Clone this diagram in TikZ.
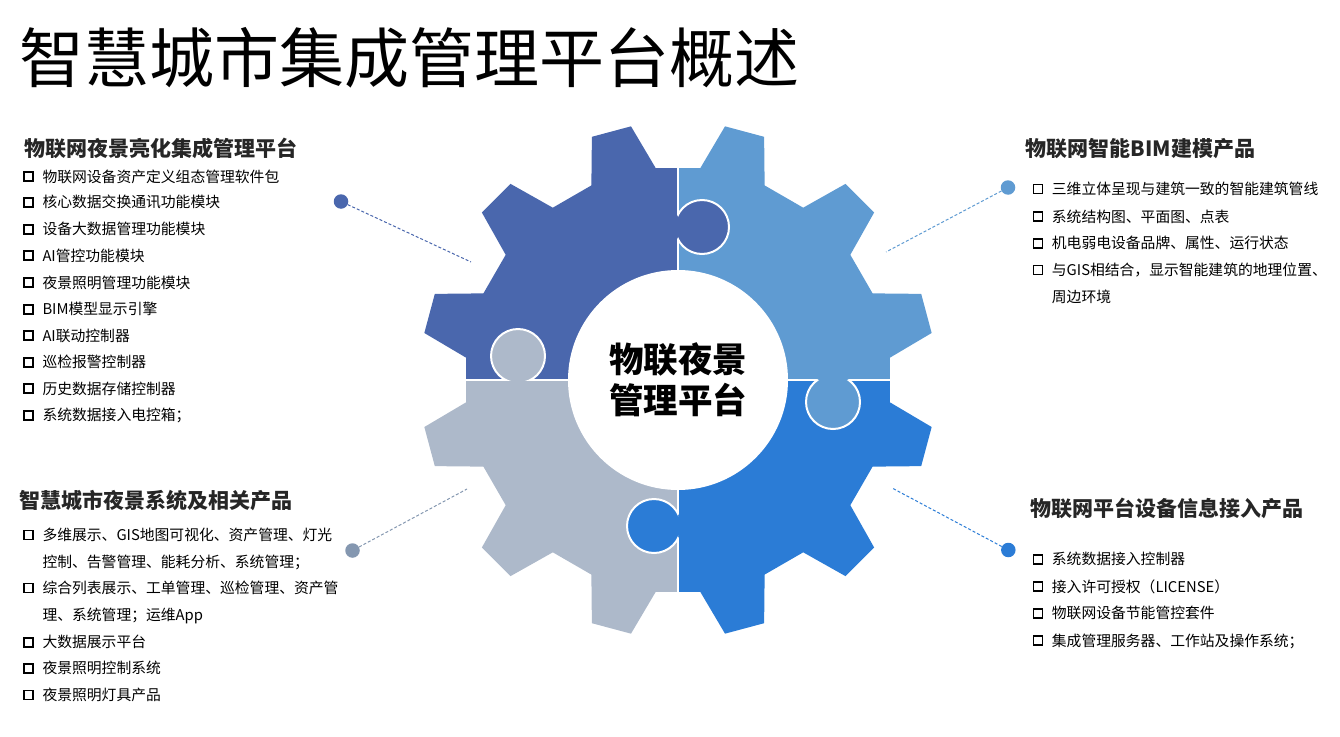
\documentclass[tikz,border=0pt]{standalone}
\usepackage{fontspec}
\setmainfont{Noto Sans CJK SC}
\definecolor{gearnavy}{HTML}{4A67AD}
\definecolor{gearsky}{HTML}{5F9BD2}
\definecolor{gearblue}{HTML}{2B7CD6}
\definecolor{geargray}{HTML}{ADB9CA}
\definecolor{dotgray}{HTML}{8497B0}
\definecolor{headgray}{HTML}{262626}
\tikzset{
  titletext/.style={anchor=base west, inner sep=0pt, font=\fontsize{65}{70}\selectfont},
  headtext/.style={anchor=base west, inner sep=0pt, text=headgray, font=\fontsize{21}{24}\selectfont\bfseries},
  itemtext/.style={anchor=base west, inner sep=0pt, align=left, font=\fontsize{14.8}{26.6}\selectfont},
  itembox/.style={draw=black, line width=1.7pt, minimum size=8.8pt, inner sep=0pt},
  hubnode/.style={circle, fill=white, minimum size=220pt, inner sep=0pt, align=center, font=\fontsize{34.5}{41}\selectfont\bfseries},
  dotnode/.style={circle, minimum size=14.5pt, inner sep=0pt},
  dashline/.style={line width=1pt, dash pattern=on 3pt off 2pt},
}
\begin{document}
\begin{tikzpicture}[x=1pt,y=-1pt]
\useasboundingbox (0,0) rectangle (1340,736);
\node[titletext] (title) at (19,82.7) {智慧城市集成管理平台概述};

\begin{scope}[shift={(678,380)}]
\foreach \qx/\qy/\col in {-1/-1/gearnavy, 1/-1/gearsky, 1/1/gearblue, -1/1/geargray} {
  \begin{scope}
    \clip (0,0) rectangle (300*\qx,300*\qy);
    \fill[\col] (6:213) \foreach \a in {15,45,...,345} { -- (\a-9:213) -- (\a-4.5:258) -- (\a+4.5:258) -- (\a+9:213) } -- cycle;
  \end{scope}
}
\draw[white, line width=2.5pt] (0,-262) -- (0,262) (-262,0) -- (262,0);
\foreach \kx/\ky/\col/\qx/\qy in {24/-153/gearnavy/1/-1, 155/22/gearsky/1/1, -24/146/gearblue/-1/1, -160/-24/geargray/-1/-1} {
  \fill[\col] (\kx,\ky) circle (27);
  \begin{scope}
    \clip (0,0) rectangle (300*\qx,300*\qy);
    \draw[white, line width=2pt] (\kx,\ky) circle (27);
  \end{scope}
}
\node[hubnode] (hub) at (0,0) {物联夜景\\管理平台};
\end{scope}

\node[dotnode, fill=gearnavy] (dotlt) at (341,201.5) {};
\node[dotnode, fill=gearsky] (dotrt) at (1008,187.5) {};
\node[dotnode, fill=dotgray] (dotlb) at (352.5,550.5) {};
\node[dotnode, fill=gearblue] (dotrb) at (1008.3,550) {};
\coordinate (endlt) at (471,262);
\coordinate (endrt) at (886,252);
\coordinate (endlb) at (467,489);
\coordinate (endrb) at (893,488.5);
\draw[dashline, draw=gearnavy] (dotlt) -- (endlt);
\draw[dashline, draw=gearsky] (dotrt) -- (endrt);
\draw[dashline, draw=dotgray] (dotlb) -- (endlb);
\draw[dashline, draw=gearblue] (dotrb) -- (endrb);

\node[headtext] (headlt) at (24.5,156.3) {物联网夜景亮化集成管理平台};
\node[headtext] (headlb) at (19.5,508) {智慧城市夜景系统及相关产品};
\node[headtext] (headrt) at (1025.5,156.3) {物联网智能BIM建模产品};
\node[headtext] (headrb) at (1030.5,516.3) {物联网平台设备信息接入产品};

\foreach \y/\n/\txt [count=\i] in {176.7/0/物联网设备资产定义组态管理软件包, 202.3/0/核心数据交换通讯功能模块, 229.3/0/设备大数据管理功能模块, 255.7/0/AI管控功能模块, 282.7/0/夜景照明管理功能模块, 309.3/0/BIM模型显示引擎, 335.7/0/AI联动控制器, 362.3/0/巡检报警控制器, 388.7/0/历史数据存储控制器, 415.3/0/系统数据接入电控箱；} {
  \node[itembox] (boxlt\i) at (28.7,\y) {};
  \node[itemtext] (itemlt\i) at (42.3,\y+5.6+26.6*\n) {\txt};
}
\foreach \y/\n/\txt [count=\i] in {535/1/{多维展示、GIS地图可视化、资产管理、灯光\\控制、告警管理、能耗分析、系统管理；}, 588/1/{综合列表展示、工单管理、巡检管理、资产管\\理、系统管理；运维App}, 642.3/0/大数据展示平台, 668.3/0/夜景照明控制系统, 695/0/夜景照明灯具产品} {
  \node[itembox] (boxlb\i) at (28.7,\y) {};
  \node[itemtext] (itemlb\i) at (42.3,\y+5.6+26.6*\n) {\txt};
}
\foreach \y/\n/\txt [count=\i] in {189/0/三维立体呈现与建筑一致的智能建筑管线, 216.7/0/系统结构图、平面图、点表, 243.3/0/机电弱电设备品牌、属性、运行状态, 270/1/{与GIS相结合，显示智能建筑的地理位置、\\周边环境}} {
  \node[itembox] (boxrt\i) at (1038,\y) {};
  \node[itemtext] (itemrt\i) at (1051.7,\y+5.6+26.6*\n) {\txt};
}
\foreach \y/\n/\txt [count=\i] in {559.3/0/系统数据接入控制器, 586.7/0/接入许可授权（LICENSE）, 613.3/0/物联网设备节能管控套件, 640.7/0/集成管理服务器、工作站及操作系统；} {
  \node[itembox] (boxrb\i) at (1038,\y) {};
  \node[itemtext] (itemrb\i) at (1051.7,\y+5.6+26.6*\n) {\txt};
}
\end{tikzpicture}
\end{document}
